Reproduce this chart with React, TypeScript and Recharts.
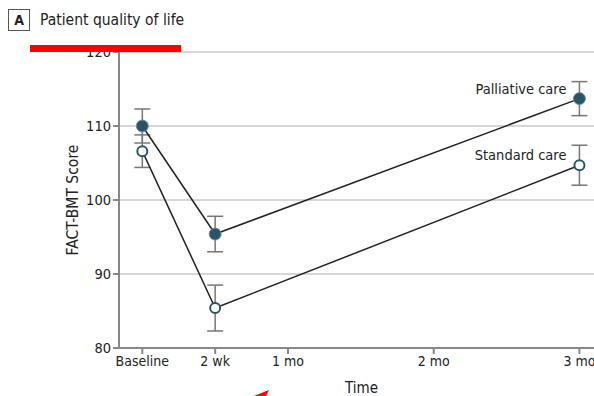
import { CartesianGrid, ErrorBar, LabelList, Line, LineChart, XAxis, YAxis } from "recharts";

const timePoints = [0, 0.5, 3];
const palliative = [110.0, 95.4, 113.7];
const palliativeErr = [2.3, 2.4, 2.3];
const standard = [106.6, 85.4, 104.7];
const standardErr = [2.2, 3.1, 2.7];

const tickValues = [0, 0.5, 1, 2, 3];
const tickLabels = ["Baseline", "2 wk", "1 mo", "2 mo", "3 mo"];
const seriesNames = ["Palliative care", "Standard care"];

const data = timePoints.map((t, i) => ({
  t,
  pal: palliative[i],
  palErr: palliativeErr[i],
  std: standard[i],
  stdErr: standardErr[i],
}));

const font = "'DejaVu Sans Condensed', 'Liberation Sans Narrow', sans-serif";
const teal = "#2b5567";

const endLabel = (name: string) => (props: any) => {
  if (props.index !== data.length - 1) return null;
  return (
    <text x={props.x - 13} y={props.y - 9} textAnchor="end" dominantBaseline="middle" fontSize={14.5} fill="#222" fontFamily={font}>
      {name}
    </text>
  );
};

export default function App() {
  return (
    <div style={{ position: "absolute", left: 0, top: 0, width: 594, height: 396, background: "#fff" }}>
      <svg width={594} height={40} style={{ position: "absolute", left: 0, top: 0 }}>
        <rect x={8.5} y={9.5} width={21} height={21} fill="none" stroke="#555" />
        <text x={19} y={25} textAnchor="middle" fontSize={14} fontWeight="bold" fill="#222" fontFamily={font}>A</text>
        <text x={40} y={25} fontSize={15.5} fill="#222" fontFamily={font}>Patient quality of life</text>
      </svg>
      <LineChart width={594} height={396} data={data} margin={{ top: 52, right: 0, bottom: 0, left: 0 }} style={{ fontFamily: font }}>
        <CartesianGrid vertical={false} stroke="#d6d6d6" strokeWidth={2} />
        <XAxis
          dataKey="t"
          type="number"
          domain={[-0.16, 3.1]}
          ticks={tickValues}
          tickFormatter={(v: number) => tickLabels[tickValues.indexOf(v)]}
          height={48}
          stroke="#888"
          strokeWidth={2}
          tick={{ fill: "#222", fontSize: 14 }}
          tickSize={6}
          allowDataOverflow
          label={{ value: "Time", position: "insideBottom", offset: 3, dx: 5, fill: "#222", fontSize: 15 }}
        />
        <YAxis
          type="number"
          domain={[80, 120]}
          ticks={[80, 90, 100, 110, 120]}
          width={119}
          stroke="#888"
          strokeWidth={2}
          tick={{ fill: "#222", fontSize: 14.5 }}
          tickSize={6}
          label={{ value: "FACT-BMT Score", angle: -90, position: "insideLeft", offset: 72, fill: "#222", fontSize: 15.5, style: { textAnchor: "middle" } }}
        />
        <Line
          dataKey="std"
          isAnimationActive={false}
          stroke="#222"
          strokeWidth={1.5}
          dot={{ r: 5, fill: "#fff", stroke: teal, strokeWidth: 2 }}
        >
          <ErrorBar dataKey="stdErr" width={8} stroke="#777" strokeWidth={1.5} direction="y" />
          <LabelList content={endLabel(seriesNames[1])} />
        </Line>
        <Line
          dataKey="pal"
          isAnimationActive={false}
          stroke="#222"
          strokeWidth={1.5}
          dot={{ r: 6, fill: teal, stroke: "#6f8f9b", strokeWidth: 1 }}
        >
          <ErrorBar dataKey="palErr" width={8} stroke="#777" strokeWidth={1.5} direction="y" />
          <LabelList content={endLabel(seriesNames[0])} />
        </Line>
      </LineChart>
      <svg width={594} height={396} style={{ position: "absolute", left: 0, top: 0, pointerEvents: "none" }}>
        <rect x={30} y={45} width={151} height={7} fill="#ff0000" />
        <polygon points="254,396 269,390 266,396" fill="#ff0000" />
      </svg>
    </div>
  );
}
